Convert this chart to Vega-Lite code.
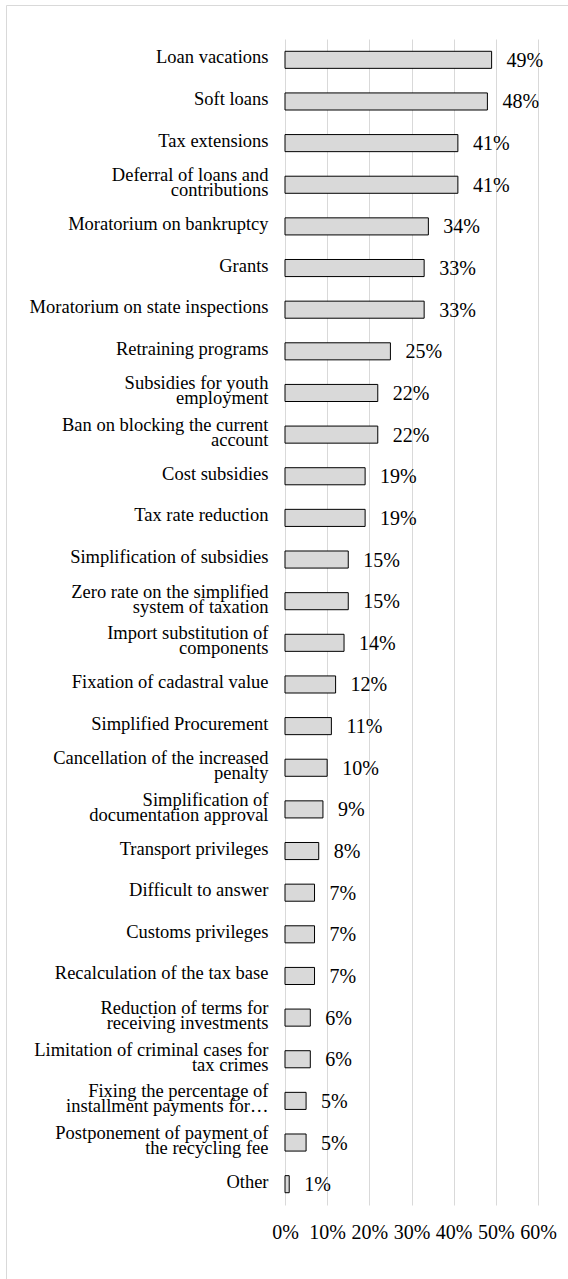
{
  "$schema": "https://vega.github.io/schema/vega-lite/v6.json",
  "width": 562,
  "height": 1274,
  "autosize": {"type": "none"},
  "padding": {"left": 6, "top": 5, "right": 0, "bottom": 0},
  "background": "white",
  "config": {
    "view": {"stroke": "#d9d9d9", "strokeWidth": 1},
    "font": "Liberation Serif"
  },
  "data": {
    "values": [
      {"label": "Loan vacations\u00a0", "value": 49, "pct": "49%"},
      {"label": "Soft loans", "value": 48, "pct": "48%"},
      {"label": "Tax extensions\u00a0", "value": 41, "pct": "41%"},
      {"label": "Deferral of loans and\u00a0|contributions", "value": 41, "pct": "41%"},
      {"label": "Moratorium on bankruptcy", "value": 34, "pct": "34%"},
      {"label": "Grants", "value": 33, "pct": "33%"},
      {"label": "Moratorium on state inspections", "value": 33, "pct": "33%"},
      {"label": "Retraining programs", "value": 25, "pct": "25%"},
      {"label": "Subsidies for youth|employment", "value": 22, "pct": "22%"},
      {"label": "Ban on blocking the current|account", "value": 22, "pct": "22%"},
      {"label": "Cost subsidies\u00a0", "value": 19, "pct": "19%"},
      {"label": "Tax rate reduction", "value": 19, "pct": "19%"},
      {"label": "Simplification of subsidies", "value": 15, "pct": "15%"},
      {"label": "Zero rate on the simplified|system of taxation", "value": 15, "pct": "15%"},
      {"label": "Import substitution of|components", "value": 14, "pct": "14%"},
      {"label": "Fixation of cadastral value", "value": 12, "pct": "12%"},
      {"label": "Simplified Procurement", "value": 11, "pct": "11%"},
      {"label": "Cancellation of the increased|penalty", "value": 10, "pct": "10%"},
      {"label": "Simplification of|documentation approval", "value": 9, "pct": "9%"},
      {"label": "Transport privileges", "value": 8, "pct": "8%"},
      {"label": "Difficult to answer", "value": 7, "pct": "7%"},
      {"label": "Customs privileges", "value": 7, "pct": "7%"},
      {"label": "Recalculation of the tax base", "value": 7, "pct": "7%"},
      {"label": "Reduction of terms for|receiving investments", "value": 6, "pct": "6%"},
      {"label": "Limitation of criminal cases for|tax crimes", "value": 6, "pct": "6%"},
      {"label": "Fixing the percentage of|installment payments for…", "value": 5, "pct": "5%"},
      {"label": "Postponement of payment of|the recycling fee", "value": 5, "pct": "5%"},
      {"label": "Other", "value": 1, "pct": "1%"}
    ]
  },
  "encoding": {
    "y": {
      "field": "label",
      "type": "nominal",
      "sort": null,
      "scale": {"range": [34, 1200], "paddingInner": 0.59, "paddingOuter": 0.295},
      "axis": {
        "orient": "left",
        "offset": -262,
        "domain": false,
        "ticks": false,
        "grid": false,
        "title": null,
        "labelFont": "Liberation Serif",
        "labelFontSize": 18.5,
        "labelColor": "#000000",
        "labelPadding": 0,
        "labelLimit": 400,
        "labelLineHeight": 15,
        "labelOffset": {"condition": {"test": "indexof(datum.label, '|') >= 0", "value": -9.5}, "value": -2.5},
        "labelExpr": "split(datum.label, '|')"
      }
    },
    "x": {
      "field": "value",
      "type": "quantitative",
      "scale": {"domain": [0, 60], "range": [279, 532], "nice": false, "zero": false},
      "axis": {
        "orient": "top",
        "offset": -1227,
        "values": [0, 10, 20, 30, 40, 50, 60],
        "labelExpr": "datum.value + '%'",
        "grid": true,
        "gridColor": "#d9d9d9",
        "gridWidth": 1,
        "domain": false,
        "ticks": false,
        "labelPadding": 0,
        "labelBaseline": "middle",
        "labelFont": "Liberation Serif",
        "labelFontSize": 20,
        "labelColor": "#000000",
        "labelFlush": false,
        "labelOverlap": false,
        "title": null
      }
    }
  },
  "layer": [
    {
      "mark": {"type": "bar", "fill": "#d9d9d9", "stroke": "#000000", "strokeWidth": 1}
    },
    {
      "mark": {"type": "text", "align": "left", "baseline": "middle", "dx": 15, "dy": 1, "fontSize": 20, "font": "Liberation Serif", "color": "#000000"},
      "encoding": {"text": {"field": "pct"}}
    }
  ]
}
